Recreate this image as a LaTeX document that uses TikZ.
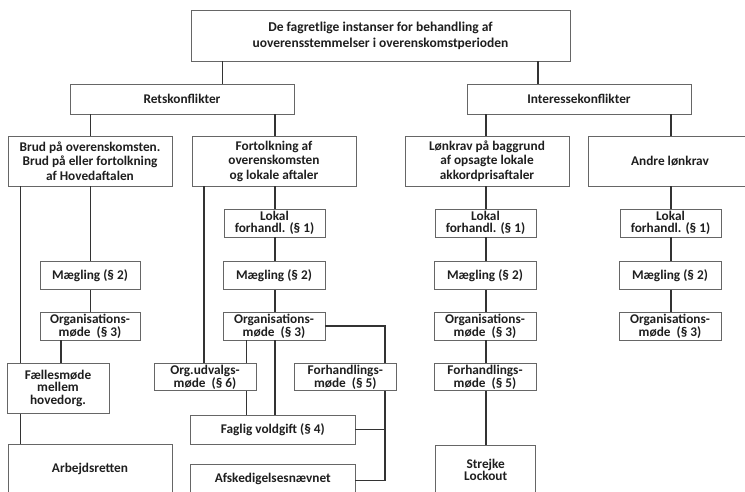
\documentclass[tikz,border=0pt]{standalone}
\usepackage{fontspec}
\setmainfont{Carlito}
\begin{document}
\begin{tikzpicture}[x=1pt,y=-1pt,
  box/.style={draw=black!60, line width=0.8pt, fill=white, inner sep=0pt, align=center, text=black!88},
  big/.style={box, font=\bfseries\fontsize{13.5}{16}\selectfont},
  mid/.style={box, font=\bfseries\fontsize{13.3}{14.5}\selectfont},
  sml/.style={box, font=\bfseries\fontsize{13.3}{11.8}\selectfont, minimum height=28pt},
  conn/.style={draw=black!80, line width=1.3pt}]
\clip (0,0) rectangle (745,491);
\fill[white] (0,0) rectangle (745,491);
% top levels
\node[big, minimum width=379pt, minimum height=51pt] (title) at (380.5,35.5) {De fagretlige instanser for behandling af\\uoverensstemmelser i overenskomstperioden};
\node[mid, minimum width=224pt, minimum height=30pt] (ret) at (182,99) {Retskonflikter};
\node[mid, minimum width=224pt, minimum height=30pt] (int) at (579,99) {Interessekonflikter};
\node[mid, minimum width=164pt, minimum height=50pt] (b1) at (90,161) {Brud på overenskomsten.\\Brud på eller fortolkning\\af Hovedaftalen};
\node[mid, minimum width=164pt, minimum height=50pt] (b2) at (274,161) {Fortolkning af\\overenskomsten\\og lokale aftaler};
\node[mid, minimum width=164pt, minimum height=50pt] (b3) at (487,161) {Lønkrav på baggrund\\af opsagte lokale\\akkordprisaftaler};
\node[mid, minimum width=164pt, minimum height=50pt] (b4) at (670,161) {Andre lønkrav};
% Lokal
\node[sml, minimum width=101pt] (lok2) at (274.5,223) {Lokal\\forhandl. (§ 1)};
\node[sml, minimum width=101pt] (lok3) at (485.5,223) {Lokal\\forhandl. (§ 1)};
\node[sml, minimum width=101pt] (lok4) at (670.5,223) {Lokal\\forhandl. (§ 1)};
% Maegling
\node[sml, minimum width=100pt] (mae1) at (90,275.5) {Mægling (§ 2)};
\node[sml, minimum width=102pt] (mae2) at (274,275.5) {Mægling (§ 2)};
\node[sml, minimum width=102pt] (mae3) at (485,275.5) {Mægling (§ 2)};
\node[sml, minimum width=102pt] (mae4) at (670,275.5) {Mægling (§ 2)};
% Organisationsmoede
\node[sml, minimum width=100pt] (org1) at (90,326) {Organisations-\\møde~ (§ 3)};
\node[sml, minimum width=102pt] (org2) at (274,326) {Organisations-\\møde~ (§ 3)};
\node[sml, minimum width=102pt] (org3) at (485,326) {Organisations-\\møde~ (§ 3)};
\node[sml, minimum width=102pt] (org4) at (670,326) {Organisations-\\møde~ (§ 3)};
% lower
\node[mid, font=\bfseries\fontsize{13.3}{12.8}\selectfont, minimum width=102pt, minimum height=50pt] (fm) at (58,388.3) {Fællesmøde\\mellem\\hovedorg.};
\node[sml, minimum width=102pt, minimum height=27.5pt] (ou) at (205,377) {Org.udvalgs-\\møde~ (§ 6)};
\node[sml, minimum width=102.7pt, minimum height=27.5pt] (fh2) at (345.3,377) {Forhandlings-\\møde~ (§ 5)};
\node[sml, minimum width=102pt, minimum height=27.5pt] (fh3) at (485,377) {Forhandlings-\\møde~ (§ 5)};
\node[mid, minimum width=164.3pt, minimum height=28.3pt] (fv) at (272.8,429.8) {Faglig voldgift (§ 4)};
\node[mid, minimum width=164.3pt, minimum height=29.4pt] (af) at (272.8,479) {Afskedigelsesnævnet};
\node[mid, minimum width=164pt, minimum height=49.4pt] (ar) at (90,469) {Arbejdsretten};
\node[mid, font=\bfseries\fontsize{13.3}{12}\selectfont, minimum width=100pt, minimum height=48.6pt] (st) at (485.7,470) {Strejke\\Lockout};
% connectors
\draw[conn] (title.south -| 222.7,0) -- (ret.north -| 222.7,0);
\draw[conn] (title.south -| 538,0) -- (int.north -| 538,0);
\draw[conn] (ret.south -| 90.7,0) -- (b1.north -| 90.7,0);
\draw[conn] (ret.south -| 275,0) -- (b2.north -| 275,0);
\draw[conn] (int.south -| 486,0) -- (b3.north -| 486,0);
\draw[conn] (int.south -| 671,0) -- (b4.north -| 671,0);
% column 1
\draw[conn] (b1.south -| 20.7,0) -- (fm.north -| 20.7,0);
\draw[conn] (fm.south -| 20.7,0) -- (ar.north -| 20.7,0);
\draw[conn] (b1.south -| 90.7,0) -- (mae1.north -| 90.7,0);
\draw[conn] (mae1.south -| 90.7,0) -- (org1.north -| 90.7,0);
\draw[conn] (org1.south -| 61,0) -- (fm.north -| 61,0);
% column 2
\draw[conn] (b2.south -| 204,0) -- (ou.north -| 204,0);
\draw[conn] (b2.south -| 275,0) -- (lok2.north -| 275,0);
\draw[conn] (lok2.south -| 275,0) -- (mae2.north -| 275,0);
\draw[conn] (mae2.south -| 275,0) -- (org2.north -| 275,0);
\draw[conn] (org2.south -| 275,0) -- (fv.north -| 275,0);
\draw[conn] (org2.south -| 246.7,0) -- (ou.north -| 246.7,0);
\draw[conn] (ou.south -| 246.7,0) -- (fv.north -| 246.7,0);
\draw[conn] (org2.east) -| (fh2.north -| 385,0);
\coordinate (j) at (385,480.7);
\draw[conn] (fh2.south -| 385,0) -- (j) -- (af.east |- j);
\draw[conn] (fv.east) -- (fv.east -| j);
% column 3
\draw[conn] (b3.south -| 486,0) -- (lok3.north -| 486,0);
\draw[conn] (lok3.south -| 486,0) -- (mae3.north -| 486,0);
\draw[conn] (mae3.south -| 486,0) -- (org3.north -| 486,0);
\draw[conn] (org3.south -| 486,0) -- (fh3.north -| 486,0);
\draw[conn] (fh3.south -| 486,0) -- (st.north -| 486,0);
% column 4
\draw[conn] (b4.south -| 671,0) -- (lok4.north -| 671,0);
\draw[conn] (lok4.south -| 671,0) -- (mae4.north -| 671,0);
\draw[conn] (mae4.south -| 671,0) -- (org4.north -| 671,0);
\end{tikzpicture}
\end{document}
